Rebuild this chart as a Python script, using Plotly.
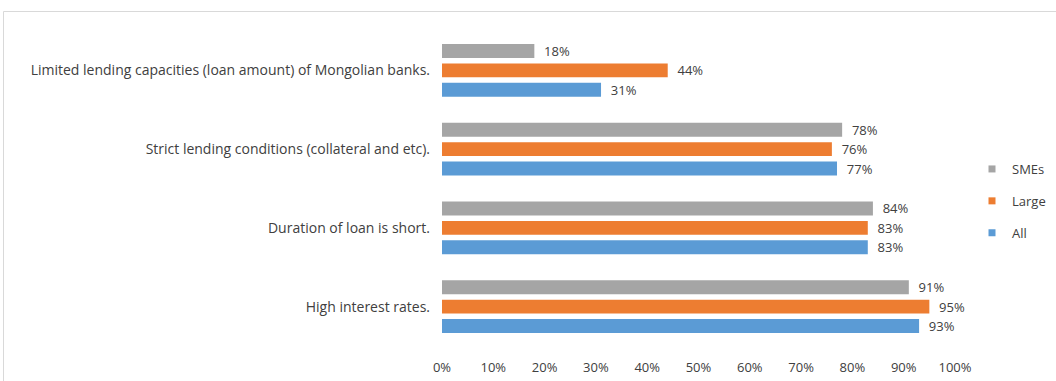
import plotly.graph_objects as go

categories = [
    "Limited lending capacities (loan amount) of Mongolian banks.",
    "Strict lending conditions (collateral and etc).",
    "Duration of loan is short.",
    "High interest rates.",
]
sme_vals = [18, 78, 84, 91]
large_vals = [44, 76, 83, 95]
all_vals = [31, 77, 83, 93]
tick_vals = [0, 10, 20, 30, 40, 50, 60, 70, 80, 90, 100]
tick_text = [f"{v}%" for v in tick_vals]

series = [
    ("SMEs", sme_vals, "#A5A5A5"),
    ("Large", large_vals, "#ED7D31"),
    ("All", all_vals, "#5B9BD5"),
]

text_color = "#404040"
font_family = "Open Sans, sans-serif"
lead = "\u00a0\u00a0"

fig = go.Figure()
for name, vals, color in series:
    fig.add_trace(go.Bar(
        y=categories, x=vals, name=name, orientation="h",
        marker=dict(color=color, line=dict(width=0)),
        text=[f"{lead}{v}%" for v in vals], textposition="outside",
        constraintext="none",
        textfont=dict(color=text_color, size=13, family=font_family),
        cliponaxis=False, showlegend=False,
    ))
    # legend proxy with small square marker
    fig.add_trace(go.Scatter(
        x=[None], y=[None], mode="markers", name=name,
        marker=dict(symbol="square", size=7, color=color),
        legendgroup=name, showlegend=True,
    ))

W, H = 1056, 381
l, r, t, b = 442, 101, 31, 35
pw, ph = W - l - r, H - t - b

def px_x(x):
    return (x - l) / pw

def px_y(y):
    return (H - b - y) / ph

fig.update_layout(
    width=W, height=H,
    margin=dict(l=l, r=r, t=t, b=b, autoexpand=False),
    paper_bgcolor="white", plot_bgcolor="white",
    barmode="group", bargap=0.26, bargroupgap=0.28,
    font=dict(family=font_family, color=text_color, size=13),
    showlegend=True,
    legend=dict(
        xref="container", yref="container",
        x=972 / W, y=1 - 201 / H, xanchor="left", yanchor="middle",
        traceorder="grouped", tracegroupgap=12,
        font=dict(size=13, color=text_color, family=font_family),
        bgcolor="rgba(0,0,0,0)", itemwidth=30,
    ),
    xaxis=dict(
        range=[0, 100], tickvals=tick_vals, ticktext=tick_text,
        showgrid=False, zeroline=False, showline=False, ticks="",
        ticklabelstandoff=12, tickfont=dict(size=13, color=text_color),
        automargin=False, fixedrange=True,
    ),
    yaxis=dict(
        showgrid=False, zeroline=False, showline=False, ticks="",
        ticklabelstandoff=11, tickfont=dict(size=14, color=text_color),
        categoryorder="array", categoryarray=categories,
        autorange="reversed", automargin=False, fixedrange=True,
    ),
    shapes=[dict(
        type="rect", xref="paper", yref="paper",
        x0=px_x(3.5), x1=px_x(1070), y0=px_y(395), y1=px_y(11.5),
        line=dict(color="#D9D9D9", width=1), fillcolor="rgba(0,0,0,0)",
        layer="below",
    )],
)

fig.write_html(
    "out.html",
    config={"displayModeBar": False},
    post_script="document.body.style.margin='0';document.body.style.overflow='hidden';",
)
